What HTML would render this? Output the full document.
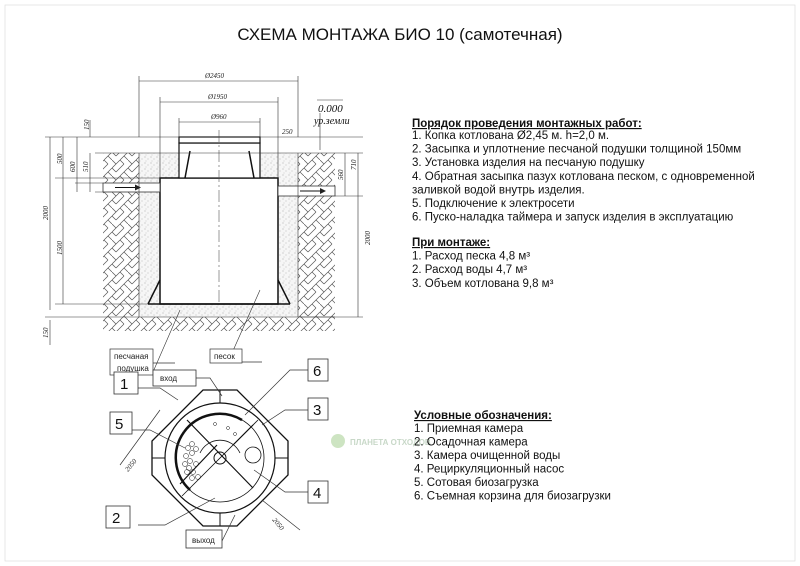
<!DOCTYPE html>
<html><head><meta charset="utf-8"><style>
html,body{margin:0;padding:0;background:#fff}
svg{display:block}
.t{font-family:"Liberation Sans",sans-serif;font-size:11.5px;fill:#111}
.h{font-weight:bold;text-decoration:underline}
.d{font-family:"Liberation Serif",serif;font-style:italic;font-size:7px;fill:#222}
.s{font-family:"Liberation Sans",sans-serif;font-size:8px;fill:#222}
.n{font-family:"Liberation Sans",sans-serif;font-size:15px;fill:#111}
</style></head><body>
<svg width="800" height="566" viewBox="0 0 800 566" xmlns="http://www.w3.org/2000/svg">
<defs>
<pattern id="hatch" width="16" height="16" patternUnits="userSpaceOnUse">
<path d="M0 8 L8 0 M4 12 L12 4 M8 16 L16 8 M0 0 L4 4 M12 12 L16 16 M8 0 L12 4 M0 8 L4 12" stroke="#555" stroke-width="0.7" fill="none"/>
</pattern>
<pattern id="sand" width="6" height="6" patternUnits="userSpaceOnUse">
<rect width="6" height="6" fill="#f6f6f6"/>
<circle cx="1" cy="1" r="0.5" fill="#999"/><circle cx="4" cy="3" r="0.5" fill="#aaa"/><circle cx="2" cy="5" r="0.4" fill="#999"/>
</pattern>
<marker id="ar" markerWidth="6" markerHeight="6" refX="5" refY="3" orient="auto"><path d="M0 0 L6 3 L0 6z" fill="#222"/></marker>
</defs>
<rect x="5" y="5" width="790" height="556" fill="none" stroke="#ddd" stroke-width="0.7"/>
<text x="400" y="40" text-anchor="middle" font-family="Liberation Sans,sans-serif" font-size="17" fill="#111">СХЕМА МОНТАЖА БИО 10 (самотечная)</text>

<rect x="103" y="153" width="232" height="178" fill="url(#hatch)"/>
<rect x="139" y="153" width="159" height="164" fill="url(#sand)"/>
<rect x="160" y="178" width="118" height="126" fill="#fff" stroke="#111" stroke-width="1.5"/>
<rect x="179" y="143" width="81" height="35" fill="#fff" stroke="#111" stroke-width="1.2"/>
<rect x="179" y="137" width="81" height="6" fill="#fff" stroke="#111" stroke-width="1.2"/>
<path d="M190 151 L185 178 M249 151 L254 178 M160 280 L148 304 M278 280 L290 304" stroke="#111" stroke-width="1.5"/>
<line x1="148" y1="304" x2="290" y2="304" stroke="#111" stroke-width="1.5"/>
<line x1="219" y1="130" x2="219" y2="305" stroke="#555" stroke-width="0.6" stroke-dasharray="12 3 2 3"/>
<rect x="103" y="183" width="57" height="9" fill="#fff" stroke="#333" stroke-width="0.8"/>
<rect x="278" y="186" width="57" height="10" fill="#fff" stroke="#333" stroke-width="0.8"/>
<line x1="115" y1="187.5" x2="140" y2="187.5" stroke="#111" marker-end="url(#ar)"/>
<line x1="300" y1="191" x2="325" y2="191" stroke="#111" marker-end="url(#ar)"/>
<g stroke="#333" stroke-width="0.6" fill="none">
<path d="M139 153 V317 M298 153 V317 M103 317 H335"/>
<path d="M139 137 V76 M298 137 V76 M139 81 H298 M160 178 V97 M278 178 V97 M160 102 H278 M179 137 V118 M260 137 V118 M179 122 H260"/>
<path d="M45 137 H363 M95 153 H335 M55 178 H160 M75 183 H103 M95 192 H103 M55 304 H148 M45 317 H103"/>
<path d="M50 137 V310 M63 137 V183 M77 137 V192 M90 153 V192 M63 178 V304 M50 320 V345"/>
<path d="M335 153 H363 M335 196 H363 M300 317 H363 M345 153 V196 M358 153 V317"/>
<path d="M90 120 V137 M317 100 H343 M320 113 V150"/>
<path d="M153 372 L180 310 M228 362 L260 290"/>
</g>
<text class="d" x="205" y="78">Ø2450</text>
<text class="d" x="208" y="99">Ø1950</text>
<text class="d" x="211" y="119">Ø960</text>
<text class="d" x="282" y="134">250</text>
<text font-family="Liberation Serif,serif" font-style="italic" font-size="11" x="318" y="112" fill="#111">0.000</text>
<text font-family="Liberation Serif,serif" font-style="italic" font-size="10" x="314" y="124" fill="#111">ур.земли</text>
<g class="d">
<text transform="translate(62,164) rotate(-90)">500</text>
<text transform="translate(75,172) rotate(-90)">600</text>
<text transform="translate(88,172) rotate(-90)">510</text>
<text transform="translate(48,220) rotate(-90)">2000</text>
<text transform="translate(62,255) rotate(-90)">1500</text>
<text transform="translate(48,338) rotate(-90)">150</text>
<text transform="translate(89,130) rotate(-90)">150</text>
<text transform="translate(343,180) rotate(-90)">560</text>
<text transform="translate(356,170) rotate(-90)">710</text>
<text transform="translate(370,245) rotate(-90)">2000</text>
</g>
<rect x="110" y="349" width="43" height="26" fill="#fff" stroke="#333" stroke-width="0.7"/>
<text class="s" x="114" y="359">песчаная</text><text class="s" x="117" y="371">подушка</text>
<rect x="210" y="349" width="32" height="14" fill="#fff" stroke="#333" stroke-width="0.7"/>
<text class="s" x="214" y="359">песок</text>
<path d="M153 363 H175 M242 362 H262" stroke="#333" stroke-width="0.7"/>

<g transform="translate(220,458)" stroke="#111" fill="none">
<polygon points="-17,-68 17,-68 68,-17 68,17 17,68 -17,68 -68,17 -68,-17" stroke-width="1.3"/>
<circle r="55" stroke-width="1.2"/>
<circle r="44" stroke-width="0.8"/>
<path d="M0 -68 V-55 M0 68 V55 M-68 0 H-55 M68 0 H55" stroke-width="1"/>
<path d="M-36 -26 A44 44 0 0 1 22 -38" stroke-width="2.5"/>
<path d="M-36 -26 A44 44 0 0 0 -30 32" stroke-width="2.5"/>
<path d="M-33 -38 L33 30 M-3 -13 L-40 26 M13 -13 L33 -33" stroke-width="1.2"/>
<path d="M38 -38 L-38 38" stroke-width="0.8"/>
<circle r="6" stroke-width="1"/>
<path d="M-20 -5 A22 22 0 0 1 20 -5" stroke-width="0.8"/>
<circle cx="33" cy="-3" r="8" stroke-width="0.8"/>
<g stroke-width="0.5">
<circle cx="-32" cy="-10" r="2.5"/><circle cx="-28" cy="-5" r="2.5"/><circle cx="-34" cy="-2" r="2.5"/><circle cx="-30" cy="3" r="2.5"/><circle cx="-35" cy="6" r="2.5"/><circle cx="-31" cy="10" r="2.5"/><circle cx="-27" cy="14" r="2.5"/><circle cx="-33" cy="14" r="2.5"/><circle cx="-24" cy="-9" r="2.5"/><circle cx="-24" cy="6" r="2.5"/><circle cx="-28" cy="-14" r="2.5"/><circle cx="-22" cy="19" r="2.5"/><circle cx="-28" cy="20" r="2.5"/>
<circle cx="-5" cy="-34" r="1.5"/><circle cx="8" cy="-30" r="1.5"/><circle cx="15" cy="-24" r="1.5"/>
</g>
</g>
<g stroke="#333" stroke-width="0.7" fill="none">
<path d="M138 388 H160 L178 400 M132 430 H150 L185 448 M138 525 H165 L215 498 M308 370 L290 370 L245 415 M308 410 L285 410 L262 425 M308 492 L285 492 L254 470"/>
<path d="M160 410 L120 465 M262 500 L300 530 M196 378 H210 L222 396 M222 541 L235 515"/>
</g>
<g fill="#fff" stroke="#333" stroke-width="0.8">
<rect x="114" y="372" width="24" height="22"/><rect x="110" y="412" width="22" height="22"/><rect x="106" y="506" width="24" height="22"/>
<rect x="308" y="359" width="20" height="22"/><rect x="308" y="398" width="20" height="22"/><rect x="308" y="481" width="20" height="22"/>
<rect x="153" y="370" width="43" height="16"/><rect x="186" y="530" width="36" height="18"/>
</g>
<text class="n" x="120" y="389">1</text><text class="n" x="115" y="429">5</text><text class="n" x="112" y="523">2</text>
<text class="n" x="313" y="376">6</text><text class="n" x="313" y="415">3</text><text class="n" x="313" y="498">4</text>
<text class="s" x="160" y="381">вход</text><text class="s" x="192" y="543">выход</text>
<text class="d" transform="translate(128,472) rotate(-50)">2050</text>
<text class="d" transform="translate(272,520) rotate(50)">2050</text>
<circle cx="338" cy="441" r="7" fill="#b8d8a8" opacity="0.7"/>
<text x="350" y="445" font-family="Liberation Sans,sans-serif" font-size="8" font-weight="bold" fill="#c8d8c8">ПЛАНЕТА ОТХОДОВ</text>

<text class="t h" x="412" y="127">Порядок проведения монтажных работ:</text>
<text class="t" x="412" y="139">1. Копка котлована Ø2,45 м. h=2,0 м.</text>
<text class="t" x="412" y="152.5">2. Засыпка и уплотнение песчаной подушки толщиной 150мм</text>
<text class="t" x="412" y="166">3. Установка изделия на песчаную подушку</text>
<text class="t" x="412" y="180">4. Обратная засыпка пазух котлована песком, с одновременной</text>
<text class="t" x="412" y="193.5">заливкой водой внутрь изделия.</text>
<text class="t" x="412" y="207">5. Подключение к электросети</text>
<text class="t" x="412" y="220.5">6. Пуско-наладка таймера и запуск изделия в эксплуатацию</text>
<text class="t h" x="412" y="246">При монтаже:</text>
<text class="t" x="412" y="259.5">1. Расход песка 4,8 м³</text>
<text class="t" x="412" y="273">2. Расход воды 4,7 м³</text>
<text class="t" x="412" y="287">3. Объем котлована 9,8 м³</text>
<text class="t h" x="414" y="419">Условные обозначения:</text>
<text class="t" x="414" y="432">1. Приемная камера</text>
<text class="t" x="414" y="445.5">2. Осадочная камера</text>
<text class="t" x="414" y="459">3. Камера очищенной воды</text>
<text class="t" x="414" y="472.5">4. Рециркуляционный насос</text>
<text class="t" x="414" y="486">5. Сотовая биозагрузка</text>
<text class="t" x="414" y="499.5">6. Съемная корзина для биозагрузки</text>
</svg>
</body></html>
